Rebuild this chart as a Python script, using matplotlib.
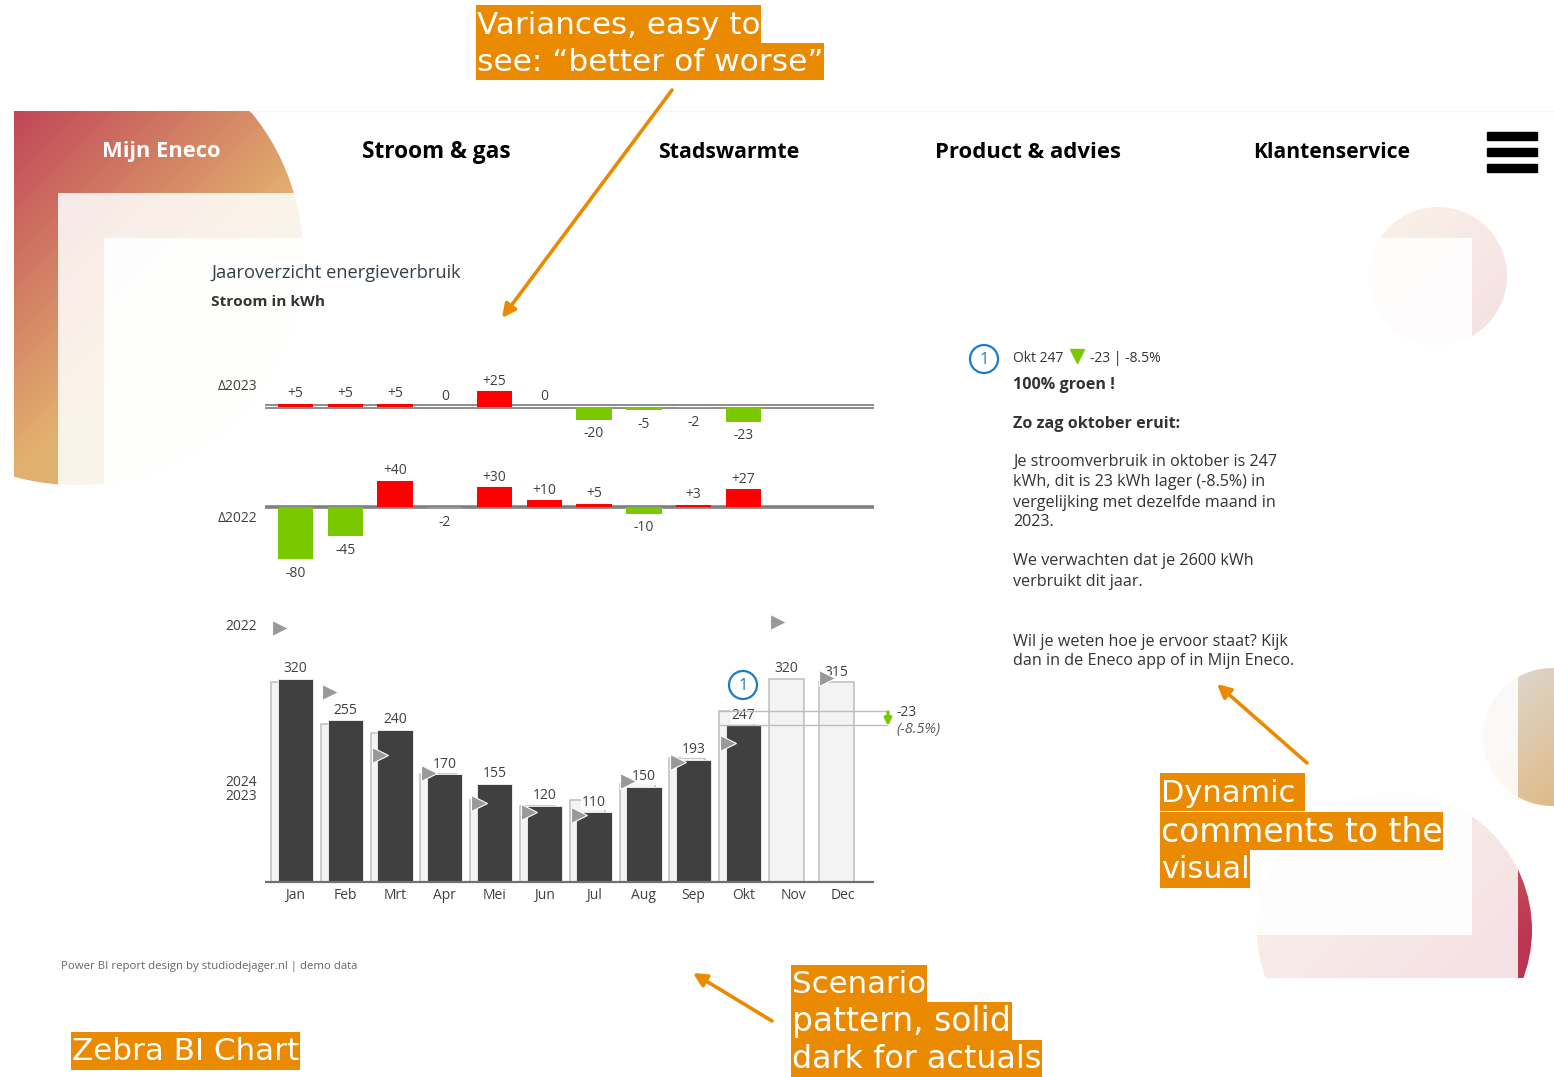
import numpy as np
import matplotlib
matplotlib.use("Agg")
import matplotlib.pyplot as plt
from matplotlib.patches import Circle, Rectangle, FancyArrowPatch

W, H = 1554, 1077
months = ["Jan", "Feb", "Mrt", "Apr", "Mei", "Jun", "Jul", "Aug", "Sep", "Okt", "Nov", "Dec"]
actual_2024 = [320, 255, 240, 170, 155, 120, 110, 150, 193, 247]
values_2023 = [315, 250, 235, 170, 130, 120, 130, 155, 195, 270, 320, 315]
values_2022 = [400, 300, 200, 172, 125, 110, 105, 160, 190, 220, 410, 322]
delta_2023 = [5, 5, 5, 0, 25, 0, -20, -5, -2, -23]
delta_2022 = [-80, -45, 40, -2, 30, 10, 5, -10, 3, 27]
nav_items = [("Mijn Eneco", 102, 119, "white"), ("Stroom & gas", 362, 149, "black"),
             ("Stadswarmte", 658, 141, "black"), ("Product & advies", 935, 186, "black"),
             ("Klantenservice", 1253, 158, "black")]
comment_lines = [("100% groen !", 383, "bold"), ("Zo zag oktober eruit:", 422, "bold"),
                 ("Je stroomverbruik in oktober is 247", 460, "normal"),
                 ("kWh, dit is 23 kWh lager (-8.5%) in", 480, "normal"),
                 ("vergelijking met dezelfde maand in", 501, "normal"),
                 ("2023.", 520, "normal"),
                 ("We verwachten dat je 2600 kWh", 559, "normal"),
                 ("verbruikt dit jaar.", 580, "normal"),
                 ("Wil je weten hoe je ervoor staat? Kijk", 640, "normal"),
                 ("dan in de Eneco app of in Mijn Eneco.", 659, "normal")]
callouts = [[("Variances, easy to", 476, 761, 5, 43), ("see: \u201cbetter of worse\u201d", 476, 824, 43, 80)],
            [("Dynamic", 1160, 1305, 773, 811), ("comments to the", 1160, 1443, 812, 850), ("visual", 1160, 1250, 850, 888)],
            [("Scenario", 791, 927, 965, 1002), ("pattern, solid", 791, 1012, 1002, 1040), ("dark for actuals", 791, 1042, 1040, 1077)],
            [("Zebra BI Chart", 71, 300, 1032, 1070)]]

UI = "Open Sans"
DARK = "#404040"
GREEN = "#7AC800"
RED = "#FF0000"
ORANGE = "#EA8A00"
TXT = "#404040"
DY = 2  # vertical optical correction for centred text, pixels

fig = plt.figure(figsize=(W / 100, H / 100), dpi=100, facecolor="white")
bg = fig.add_axes([0, 0, 1, 1], zorder=0)
bg.set_xlim(0, W)
bg.set_ylim(H, 0)
bg.axis("off")
bg.set_autoscale_on(False)
renderer = fig.canvas.get_renderer()


def fitted(ax, s, x, y, width, **kw):
    t = ax.text(x, y, s, va="center", ha="left", **kw)
    size = t.get_fontsize()
    t.set_fontsize(size * width / t.get_window_extent(renderer).width)
    return t


def blob(cx, cy, r, box, start, L, c0, c1, zone):
    x0, x1, y0, y1 = box
    xs, ys = np.meshgrid(np.arange(x0, x1) + .5, np.arange(y0, y1) + .5)
    t = np.clip(((xs - start[0]) + (ys - start[1])) / L, 0, 1)[..., None]
    rgb = np.array(c0) * (1 - t) + np.array(c1) * t
    a = zone(xs, ys)[..., None]
    img = (rgb * (1 - a) + 255 * a) / 255
    im = bg.imshow(img, extent=(x0, x1, y1, y0), interpolation="bilinear", aspect="auto", zorder=1)
    im.set_clip_path(Circle((cx, cy), r, transform=bg.transData))


TAN = (226, 176, 110)
CRIM = (188, 52, 82)
blob(75, 257, 228, (14, 304, 111, 486), (14, 111), 360, (192, 70, 88), TAN,
     lambda x, y: np.where((x < 58) | (y < 193), 0, np.where((x < 104) | (y < 238), .85, .99)))
blob(1438, 276, 69, (1369, 1508, 207, 345), (1369, 207), 300, TAN, CRIM,
     lambda x, y: np.where((x > 1472) | (y < 238), .84, .985))
blob(1552, 737, 69, (1483, 1554, 668, 806), (1518, 668), 200, (222, 214, 204), (224, 182, 125),
     lambda x, y: np.where(x < 1518, .88, 0))
blob(1394.5, 930, 137.5, (1257, 1533, 792, 978), (1257, 792), 420, TAN, CRIM,
     lambda x, y: np.where(x >= 1518, 0, np.where((x > 1472) | (y > 935), .85, .99)))
bg.plot([250, W], [111, 111], color="#F6F6F6", lw=1, zorder=1)

# navigation
for s, x, w, c in nav_items:
    fitted(bg, s, x, 150 + DY, w, color=c, family=UI, fontweight="bold", fontsize=16, zorder=3)
for y in (132, 148, 164):
    bg.add_patch(Rectangle((1487, y), 49.5, 8, color="black", zorder=3))

# titles
fitted(bg, "Jaaroverzicht energieverbruik", 211, 271 + DY, 251, family=UI, color="#333F48", fontsize=14, zorder=3)
fitted(bg, "Stroom in kWh", 211, 300 + DY, 114, family=UI, fontweight="bold", color="#333333", fontsize=11, zorder=3)
for s, y in (("\u03942023", 385), ("\u03942022", 516), ("2022", 624), ("2024", 781), ("2023", 795)):
    bg.text(257, y + DY, s, ha="right", va="center", family=UI, fontsize=10, color=TXT, zorder=3)
fitted(bg, "Power BI report design by studiodejager.nl | demo data", 61, 966 + 1, 297,
       family=UI, fontsize=8, color="#666666", zorder=3)

# chart axes share one pixel scale
PX_X = 49.77
PX_Y = 0.634
PX_Y_2022 = 0.655
X0 = 295.5


def chart_axes(base_y, top_y, bot_y, px_y=PX_Y):
    x_left, x_right = 265, 960
    ax = fig.add_axes([x_left / W, 1 - bot_y / H, (x_right - x_left) / W, (bot_y - top_y) / H], zorder=2)
    ax.set_xlim((x_left - X0) / PX_X, (x_right - X0) / PX_X)
    ax.set_ylim((base_y - bot_y) / px_y, (base_y - top_y) / px_y)
    ax.patch.set_alpha(0)
    for sp in ax.spines.values():
        sp.set_visible(False)
    ax.set_yticks([])
    ax.set_xticks([])
    return ax


X_END = (874 - X0) / PX_X
X_START = (265 - X0) / PX_X
BW = 35.3 / PX_X
x = np.arange(len(months))


def delta_panel(base_y, top_y, bot_y, vals, double, px_y):
    ax = chart_axes(base_y, top_y, bot_y, px_y)
    xv = x[:len(vals)]
    ax.bar(xv, vals, BW, color=[RED if v > 0 else GREEN for v in vals], zorder=3)
    if double:
        ax.hlines([2.6, -1.6], X_START, X_END, color="#6E6E6E", lw=1.1, zorder=2)
    else:
        ax.hlines(0, X_START, X_END, color="#808080", lw=2.6, zorder=2)
    for xi, v in zip(xv, vals):
        label = f"{v:+d}" if v != 0 else "0"
        ax.annotate(label, (xi, v), xytext=(0, 7.3 if v >= 0 else -10.2), textcoords="offset points",
                    ha="center", va="center", family=UI, fontsize=10, color=TXT, zorder=4)
    return ax


delta_panel(407, 340, 460, delta_2023, True, PX_Y)
delta_panel(507, 450, 600, delta_2022, False, PX_Y_2022)

ax = chart_axes(882, 600, 882)
OFFSET = -6.7 / PX_X
ax.bar(x + OFFSET, values_2023, BW, color="#F3F3F3", edgecolor="#C2C2C2", lw=1.2, zorder=2)
ax.bar(x[:len(actual_2024)], actual_2024, BW, color=DARK, edgecolor="#F5F5F5", lw=.6, zorder=3)
ax.hlines(0, X_START, X_END, color="#707070", lw=1.6, zorder=5, clip_on=False)
ax.set_xticks(x, months)
ax.tick_params(axis="x", length=0, pad=4.5, labelsize=10, labelcolor=TXT)
for lab in ax.get_xticklabels():
    lab.set_family(UI)

# value labels: actuals for Jan-Okt, then the 2023 scenario for Nov and Dec
for i, v in enumerate(actual_2024):
    ax.annotate(str(v), (i, v), xytext=(0, 7.3), textcoords="offset points", ha="center", va="center",
                family=UI, fontsize=10, color=TXT, zorder=6,
                bbox=dict(fc="white", ec="none", pad=.6, alpha=.9))
for i in (10, 11):
    ax.annotate(str(values_2023[i]), (i + OFFSET, values_2023[i]), xytext=(0, 7.3), textcoords="offset points",
                ha="center", va="center", family=UI, fontsize=10, color=TXT, zorder=6)

ax.plot(x - 15.5 / PX_X, values_2022, ls="none", marker=">", ms=11.5, mfc="#999999", mec="white", mew=.8, zorder=7)

# variance bracket for the selected month
sel = 9
xb = (888 - X0) / PX_X
for v in (values_2023[sel], actual_2024[sel]):
    ax.hlines(v, sel + OFFSET - BW / 2, xb, color="#BDBDBD", lw=1, zorder=6)
ax.add_patch(FancyArrowPatch((xb, values_2023[sel] - 2), (xb, actual_2024[sel] - 1), arrowstyle="-|>",
                             mutation_scale=10, lw=2.4, color=GREEN, shrinkA=0, shrinkB=0, zorder=8))
diff = actual_2024[sel] - values_2023[sel]
ax.annotate(f"{diff:+d}", (xb, values_2023[sel]), xytext=(6, -1.5), textcoords="offset points", ha="left", va="center",
            family=UI, fontsize=10, color=TXT)
ax.annotate(f"({diff / values_2023[sel] * 100:+.1f}%)", (xb, actual_2024[sel]), xytext=(6, -3), textcoords="offset points",
            ha="left", va="center", family=UI, fontsize=10.5, style="italic", color="#595959")

for cx, cy in ((743, 685), (984, 359)):
    bg.add_patch(Circle((cx, cy), 14, fc="white", ec="#1A7CC9", lw=1.6, zorder=3))
    bg.text(cx, cy + 1, "1", ha="center", va="center", family=UI, fontsize=12, color="#1A7CC9", zorder=4)

# comment panel
bg.text(1013, 357 + DY, "Okt 247", family=UI, fontsize=10, va="center", color="#333333", zorder=3)
bg.plot([1077], [356], marker="v", ms=10, color=GREEN, zorder=3)
bg.text(1090, 357 + DY, "-23 | -8.5%", family=UI, fontsize=10, va="center", color="#333333", zorder=3)
for s, y, weight in comment_lines:
    bg.text(1013, y + DY, s, family=UI, fontsize=11.6, va="center", color="#333333", fontweight=weight, zorder=3)

# call-outs on an overlay
top = fig.add_axes([0, 0, 1, 1], zorder=10)
top.set_xlim(0, W)
top.set_ylim(H, 0)
top.axis("off")
top.patch.set_alpha(0)
for group in callouts:
    for s, x0, x1, y0, y1 in group:
        top.add_patch(Rectangle((x0, y0), x1 - x0, y1 - y0, color=ORANGE, lw=0))
        pad = 9 if s == "Dynamic" else 0
        fitted(top, s, x0 + 1, (y0 + y1) / 2 + 1, x1 - x0 - 2 - pad, family="DejaVu Sans", color="white", fontsize=22)
for p0, p1 in (((672, 90), (502, 318)), ((1307, 763), (1217, 684)), ((772, 1021), (693, 973))):
    top.add_patch(FancyArrowPatch(p0, p1, arrowstyle="-|>", mutation_scale=20, lw=2.6, color=ORANGE,
                                  shrinkA=0, shrinkB=0))

fig.savefig("out.png", dpi=100)
